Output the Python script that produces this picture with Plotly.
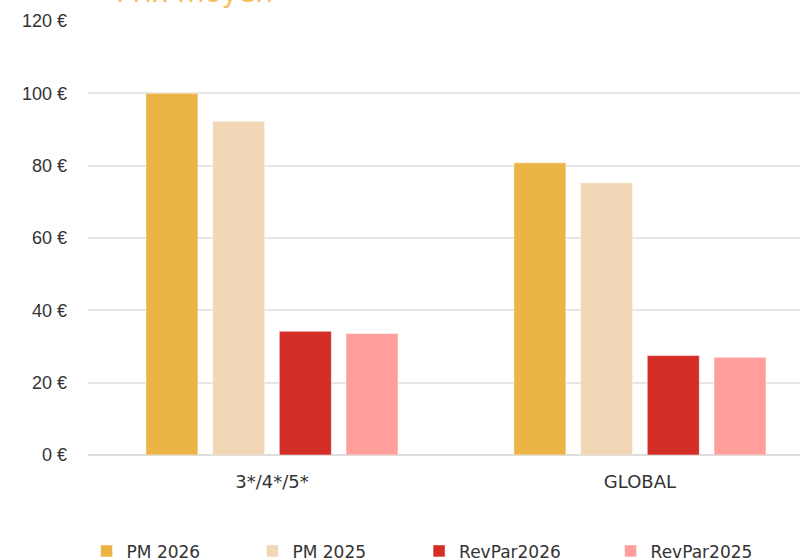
import plotly.graph_objects as go

# ── Data ──────────────────────────────────────────────────────────────────────
CATEGORIES = ["3*/4*/5*", "GLOBAL"]
PM_2026 = [100.0, 80.8]
PM_2025 = [92.3, 75.3]
REVPAR_2026 = [34.2, 27.5]
REVPAR_2025 = [33.6, 27.0]

SERIES = [
    ("PM 2026", PM_2026, "#EBB447", "legend", -0.002),
    ("PM 2025", PM_2025, "#F2D7B6", "legend2", 0.231),
    ("RevPar2026", REVPAR_2026, "#D22E26", "legend3", 0.465),
    ("RevPar2025", REVPAR_2025, "#FF9E9A", "legend4", 0.734),
]

TEXT_COLOR = "#333333"
GRID_COLOR = "#E6E6E6"
TICK_FONT = "'Liberation Sans', Arial, sans-serif"
LABEL_FONT = "'DejaVu Sans', sans-serif"

fig = go.Figure()
for name, values, color, legend_id, _ in SERIES:
    fig.add_trace(
        go.Bar(
            name=name,
            x=CATEGORIES,
            y=values,
            marker=dict(color=color, line=dict(color="rgba(255,255,255,0.5)", width=1)),
            legend=legend_id,
            hovertemplate="<b>%{x}</b><br>%{y:.1f} €<extra>" + name + "</extra>",
        )
    )

legends = {}
for name, _, _, legend_id, lx in SERIES:
    legends[legend_id] = dict(
        x=lx,
        y=-0.222,
        xanchor="left",
        yanchor="middle",
        orientation="h",
        bgcolor="rgba(0,0,0,0)",
        font=dict(size=17, color=TEXT_COLOR, family=LABEL_FONT),
        itemwidth=30,
        tracegroupgap=0,
    )

fig.update_layout(
    width=800,
    height=559,
    paper_bgcolor="white",
    plot_bgcolor="white",
    font=dict(family=TICK_FONT, color=TEXT_COLOR),
    margin=dict(l=88, r=0, t=21, b=104, autoexpand=False),
    barmode="group",
    bargap=0.275,
    bargroupgap=0.22,
    showlegend=True,
    xaxis=dict(
        range=[-0.5, 1.435],
        showgrid=False,
        showline=False,
        ticks="",
        automargin=False,
        ticklabelstandoff=14,
        tickfont=dict(size=18, color=TEXT_COLOR, family=LABEL_FONT),
    ),
    yaxis=dict(
        range=[0, 120],
        dtick=20,
        ticksuffix=" €",
        showgrid=True,
        gridcolor=GRID_COLOR,
        gridwidth=1.5,
        zeroline=True,
        zerolinecolor="#DDDDDD",
        zerolinewidth=2,
        automargin=False,
        tickfont=dict(size=18, color=TEXT_COLOR, family=TICK_FONT),
        ticklabelstandoff=20,
    ),
    **legends,
)

fig.add_annotation(
    text="Prix moyen",
    xref="paper",
    yref="paper",
    x=0.149,
    y=1.023,
    xanchor="center",
    yanchor="bottom",
    showarrow=False,
    font=dict(size=28, color="#F5C060", family=LABEL_FONT),
)

# the page body has a default 8px margin; drop it so the figure fills the window
fig.write_html(
    "out.html",
    config={"displayModeBar": False},
    post_script="document.body.style.margin = '0';",
)
